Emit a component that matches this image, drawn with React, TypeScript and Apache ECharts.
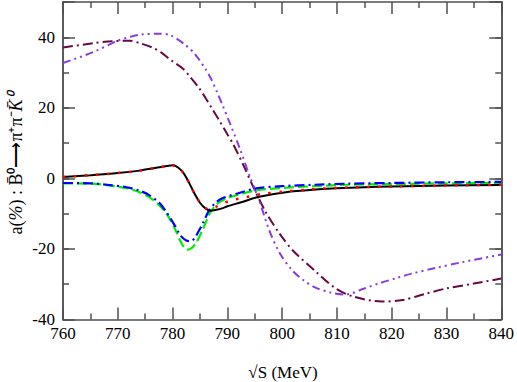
import React, { useEffect, useRef } from "react";
import * as echarts from "echarts";

const xTicksMin = 760;
const xTicksMax = 840;
const yTicksMin = -40;
const yTicksMax = 50;

const blackX = [760, 765, 770, 774, 777, 779, 780, 781, 782, 783, 784, 785, 786, 787, 788, 789, 790, 792.7, 795.8, 800.7, 806.7, 810, 815, 820, 830, 840];
const blackY = [0.4, 0.9, 1.5, 2.2, 3.0, 3.5, 3.7, 3.1, 1.5, -1.2, -4.3, -6.9, -8.5, -9.2, -8.9, -8.5, -7.9, -6.7, -5.2, -3.9, -3.1, -2.8, -2.5, -2.3, -2.0, -1.9];

const redX = [760, 765, 770, 774, 777, 779, 780, 781, 782, 783, 784, 785, 786, 787, 788, 789, 790.4, 792.5, 794.4, 796.4, 800.7, 804.5, 810, 820, 830, 840];
const redY = [0.4, 0.9, 1.5, 2.2, 3.0, 3.5, 3.7, 3.1, 1.5, -1.2, -4.3, -6.9, -8.4, -8.6, -8.0, -7.2, -6.4, -5.6, -5.0, -4.4, -3.7, -3.2, -2.7, -2.3, -2.0, -1.8];

const greenX = [760, 765, 768, 771.6, 774, 775.8, 777.5, 779, 780.7, 781.7, 782.7, 783.6, 784.4, 785.5, 786.7, 787.5, 788.5, 790, 791.6, 795.3, 800, 806, 812, 820, 830, 840];
const greenY = [-1.4, -1.5, -1.9, -2.8, -3.9, -5.4, -7.5, -10.2, -15.2, -18.6, -20.2, -19.6, -18.0, -14.5, -10.2, -8.3, -6.8, -5.6, -4.8, -3.4, -2.7, -2.2, -1.8, -1.6, -1.4, -1.3];

const blueX = [760, 765, 768, 771.6, 774, 775.8, 777.5, 778.9, 780.5, 781.5, 782.5, 783.3, 784, 785, 785.5, 786.7, 787.8, 789, 792, 795.3, 800, 806, 812, 820, 830, 840];
const blueY = [-1.3, -1.4, -1.8, -2.5, -3.5, -4.8, -6.8, -9.6, -13.6, -16.3, -17.6, -17.8, -17.0, -14.3, -12.8, -9.0, -7.0, -5.7, -4.2, -2.8, -2.2, -1.8, -1.5, -1.3, -1.1, -1.0];

const maroonX = [760, 765.5, 769, 772.2, 774.3, 776.3, 777.9, 779.9, 781.9, 783.1, 784.9, 786.1, 787, 788.5, 790, 791, 793, 794.9, 797, 799.5, 802, 806.2, 809.8, 813, 818.2, 822, 826, 830, 835, 840];
const maroonY = [37.1, 38.3, 38.9, 39.0, 38.2, 37.1, 35.7, 33.3, 31.1, 29.0, 25.5, 22.6, 20.3, 16.5, 12.5, 9.9, 3.5, -3.0, -9.5, -15.6, -20.5, -26.5, -31.2, -33.5, -34.9, -34.5, -32.8, -31.2, -29.8, -28.4];

const purpleX = [760, 765.5, 769.8, 772.2, 774.3, 777.6, 779.6, 782.2, 784, 786.1, 787, 788.2, 789, 790.5, 792.2, 794, 795.8, 797.6, 799.5, 801.8, 804, 806, 809, 811.6, 815, 818, 821, 823.6, 828, 832.7, 840];
const purpleY = [32.7, 35.8, 38.9, 40.1, 40.8, 41.0, 40.6, 38.0, 35.4, 30.8, 28.3, 24.2, 21.2, 15.5, 8.8, 1.0, -6.2, -14.5, -21.0, -26.0, -29.0, -30.9, -32.4, -32.9, -31.2, -29.6, -28.2, -27.0, -25.4, -23.8, -21.6];

const pairs = (xs: number[], ys: number[]) => xs.map((x, i) => [x, ys[i]]);

const FONT = "Liberation Serif";
const FRAME = "#505050";

export default function App() {
  const ref = useRef<HTMLDivElement>(null);
  useEffect(() => {
    document.body.style.margin = "0";
    if (!ref.current) return;
    const chart = echarts.init(ref.current, null, { renderer: "svg" });
    const xBase = (pos: "bottom" | "top", labels: boolean) => ({
      type: "value",
      position: pos,
      min: xTicksMin,
      max: xTicksMax,
      interval: 10,
      axisLine: { show: true, onZero: false, lineStyle: { color: FRAME, width: 1.5 } },
      axisTick: { show: true, inside: true, length: 12, lineStyle: { color: FRAME, width: 1.5 } },
      minorTick: { show: true, splitNumber: 2, length: 6, lineStyle: { color: FRAME, width: 1.5 } },
      splitLine: { show: false },
      axisLabel: { show: labels, margin: 5, color: "#000", fontFamily: FONT, fontSize: 17 },
    });
    const yBase = (pos: "left" | "right", interval: number, len: number, labels: boolean) => ({
      type: "value",
      position: pos,
      min: yTicksMin,
      max: yTicksMax,
      interval,
      offset: 0,
      axisLine: { show: true, onZero: false, lineStyle: { color: FRAME, width: 1.5 } },
      axisTick: { show: true, inside: true, length: len, lineStyle: { color: FRAME, width: 1.5 } },
      splitLine: { show: false },
      axisLabel: {
        show: labels,
        margin: 8,
        color: "#000",
        fontFamily: FONT,
        fontSize: 17,
        formatter: (v: number) => (v === 50 ? "" : String(v)),
      },
    });
    const line = (name: string, xs: number[], ys: number[], color: string, type: any, width: number, z: number) => ({
      name,
      type: "line",
      data: pairs(xs, ys),
      xAxisIndex: 0,
      yAxisIndex: 0,
      showSymbol: false,
      smooth: 0.3,
      z,
      lineStyle: { color, type, width, cap: "butt" },
    });
    chart.setOption({
      animation: false,
      grid: { left: 63, right: 14, top: 2, bottom: 62.5, containLabel: false },
      xAxis: [xBase("bottom", true), xBase("top", false)],
      yAxis: [
        yBase("left", 20, 12, true),
        yBase("left", 10, 6, false),
        yBase("right", 20, 12, false),
        yBase("right", 10, 6, false),
      ],
      series: [
        line("maroon", maroonX, maroonY, "#660a44", [10, 4, 2, 4], 2, 2),
        line("purple", purpleX, purpleY, "#8a3be0", [8, 4, 2, 4, 2, 4], 2, 2),
        line("green", greenX, greenY, "#00ee00", [10, 4], 2.2, 3),
        line("blue", blueX, blueY, "#0000ff", [10, 4, 2, 4], 2.2, 4),
        line("black", blackX, blackY, "#000000", "solid", 2, 5),
        line("red", redX, redY, "#ff0000", [2.5, 8.5], 2.5, 6),
      ],
      graphic: [
        {
          type: "text",
          x: 283,
          y: 372,
          style: {
            text: "\u221aS (MeV)",
            fontFamily: FONT,
            fontSize: 17,
            fill: "#000",
            textAlign: "center",
            textVerticalAlign: "middle",
          },
        },
        {
          type: "text",
          x: 16,
          y: 164,
          rotation: Math.PI / 2,
          style: {
            text: "a({it|%}) : B\u0304\u2070\u27f6\u03c0\u207a\u03c0\u207b{it|K\u0304\u2070}",
            fontFamily: FONT,
            fontSize: 18,
            fill: "#000",
            textAlign: "center",
            textVerticalAlign: "middle",
            rich: {
              it: { fontStyle: "italic", fontFamily: FONT, fontSize: 18, fill: "#000" },
            },
          },
        },
      ],
    });
    return () => chart.dispose();
  }, []);
  return <div ref={ref} style={{ width: 517, height: 382 }} />;
}
